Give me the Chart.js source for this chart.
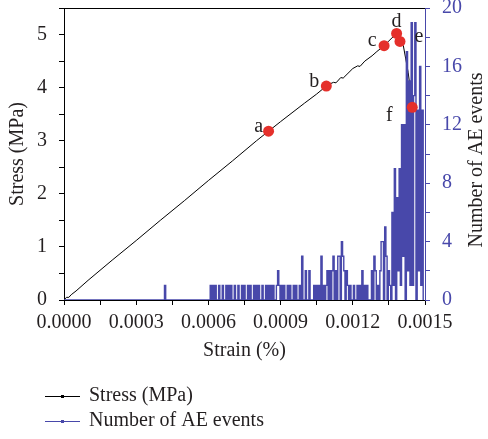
<!DOCTYPE html>
<html>
<head>
<meta charset="utf-8">
<script src="https://cdn.jsdelivr.net/npm/chart.js@4.4.1/dist/chart.umd.min.js"></script>
<style>
  html, body { margin: 0; padding: 0; background: #fff; }
</style>
</head>
<body>
<canvas id="stressChart" width="488" height="439"></canvas>
<script>
// Stress-strain curve
const stressStrain = [0, 0.00001, 0.00002, 0.00003, 0.00005, 0.0001, 0.0002, 0.0003, 0.0004, 0.0005,
    0.0006, 0.0007, 0.0008, 0.00085, 0.0009, 0.001, 0.00105, 0.00109, 0.0011, 0.00112,
    0.00113, 0.00115, 0.00116, 0.00118, 0.0012, 0.00122, 0.00123, 0.00125, 0.00128, 0.0013,
    0.00133, 0.00135, 0.00137, 0.001382, 0.00139, 0.001396, 0.00141, 0.00142, 0.00143, 0.00144, 0.001447];
const stressValues = [0, 0.05, 0.05, 0.1, 0.17, 0.37, 0.75, 1.12, 1.5, 1.87,
    2.25, 2.62, 3.0, 3.18, 3.36, 3.71, 3.88, 4.03, 4.06, 4.1,
    4.09, 4.19, 4.18, 4.27, 4.36, 4.41, 4.4, 4.5, 4.6, 4.68,
    4.79, 4.88, 4.97, 5.02, 4.96, 4.87, 4.79, 4.54, 4.29, 3.94, 3.63];

// Marked points a-f
const pointNames = ["a", "b", "c", "d", "e", "f"];
const pointStrain = [0.00085, 0.00109, 0.00133, 0.001382, 0.001396, 0.001447];
const pointStress = [3.18, 4.03, 4.79, 5.02, 4.87, 3.63];

// AE counts, sampled every 0.000005 strain from 0.0004
const aeStart = 0.0004;
const aeStep = 0.000005;
const aeCounts = [
    0,0,0,0,1,0,0,0,0,0, 0,0,0,0,0,0,0,0,0,0, 0,0,0,0,0,0,0,0,0,0, 0,0,0,0,0,0,0,0,0,0,
    0,0,1,0,1,0,1,0,0,1,
    0,0,1,0,0,1,0,1,0,1,
    0,0,1,0,0,1,0,0,1,0,
    1,0,0,1,0,1,0,0,1,0,
    1,0,1,0,0,1,0,0,1,0,
    1,0,1,0,1,0,0,1,2,1,
    0,1,0,1,0,0,1,0,1,0,
    0,1,0,1,0,0,1,0,3,0,
    0,2,0,0,2,0,0,0,1,0,
    1,0,1,0,3,0,1,0,1,2,
    0,2,0,2,3,0,2,0,3,3,
    0,4,3,2,0,2,1,0,1,0,
    0,1,0,0,1,0,1,0,2,0,
    1,0,1,0,0,0,2,0,3,2,
    0,1,0,2,4,4,0,5,3,0,
    2,1,0,6,1,9,0,7,2,9,
    1,12,3,12,0,17,2,15,1,19,
    1,14,19,0,13,2,16,1,13,0
];

// Tick labels
const strainTicks = [0, 0.0003, 0.0006, 0.0009, 0.0012, 0.0015];
const stressTicks = [0, 1, 2, 3, 4, 5];
const aeTicks = [0, 4, 8, 12, 16, 20];

const BLUE = "#4848aa";
const RED = "#e5302b";
const TEXT = "#231f20";

const stressData = stressStrain.map((x, i) => ({ x: x, y: stressValues[i] }));
const pointData = pointStrain.map((x, i) => ({ x: x, y: pointStress[i] }));
const aeData = [{ x: 0, y: 0 }].concat(aeCounts.map((c, i) => ({ x: aeStart + i * aeStep, y: c })));

function inList(list, v, eps) {
    return list.some(t => Math.abs(t - v) < eps);
}

Chart.defaults.font.family = "'Liberation Serif', 'Times New Roman', serif";
Chart.defaults.font.size = 20;
Chart.defaults.color = TEXT;

// where each letter sits relative to its dot (baseline, centered)
const labelOffsets = { a: [-10, 1], b: [-12, 1], c: [-12, 0], d: [0, -6], e: [19, 1], f: [-23, 14] };

const extras = {
    id: "extras",
    afterDatasetsDraw(chart) {
        const { ctx, scales } = chart;
        ctx.save();
        ctx.font = "20px 'Liberation Serif', serif";
        ctx.fillStyle = TEXT;
        ctx.textAlign = "center";
        ctx.textBaseline = "alphabetic";
        pointNames.forEach((n, i) => {
            const px = scales.x.getPixelForValue(pointStrain[i]);
            const py = scales.y.getPixelForValue(pointStress[i]);
            const off = labelOffsets[n];
            ctx.fillText(n, px + off[0], py + off[1]);
        });
        ctx.restore();
    },
    afterDraw(chart) {
        const { ctx, chartArea } = chart;
        ctx.save();
        // top frame line
        ctx.strokeStyle = "#000";
        ctx.lineWidth = 1;
        ctx.beginPath();
        ctx.moveTo(chartArea.left, chartArea.top + 0.5);
        ctx.lineTo(chartArea.right, chartArea.top + 0.5);
        ctx.stroke();

        // right axis title, reading bottom to top
        ctx.font = "20px 'Liberation Serif', serif";
        ctx.fillStyle = TEXT;
        ctx.translate(477, 160);
        ctx.rotate(-Math.PI / 2);
        ctx.textAlign = "center";
        ctx.textBaseline = "middle";
        ctx.fillText("Number of AE events", 0, 0);
        ctx.restore();

        // legend
        ctx.save();
        ctx.font = "20px 'Liberation Serif', serif";
        ctx.textBaseline = "middle";
        ctx.textAlign = "left";
        const items = chart.data.datasets.filter(d => d.label !== "points").reverse();
        items.forEach((d, i) => {
            const y = 396 + i * 25;
            ctx.strokeStyle = d.borderColor;
            ctx.lineWidth = 1;
            ctx.beginPath();
            ctx.moveTo(45, y + 0.5);
            ctx.lineTo(80, y + 0.5);
            ctx.stroke();
            ctx.fillStyle = d.borderColor;
            ctx.fillRect(61, y - 1, 3, 3);
            ctx.fillStyle = TEXT;
            ctx.fillText(d.label, 89, y);
        });
        ctx.restore();
    }
};

const ctx = document.getElementById("stressChart");
new Chart(ctx.getContext("2d"), {
    type: "line",
    data: {
        datasets: [
            {
                label: "points",
                data: pointData,
                yAxisID: "y",
                showLine: false,
                pointRadius: 5.5,
                pointBackgroundColor: RED,
                pointBorderWidth: 0,
                order: 0,
            },
            {
                label: "Number of AE events",
                data: aeData,
                yAxisID: "y1",
                borderColor: BLUE,
                borderWidth: 1.4,
                stepped: "middle",
                pointRadius: 0,
                order: 1,
            },
            {
                label: "Stress (MPa)",
                data: stressData,
                yAxisID: "y",
                borderColor: "#000",
                borderWidth: 1,
                pointRadius: 0,
                order: 2,
            },
        ],
    },
    options: {
        responsive: false,
        animation: false,
        layout: { padding: { top: 8, bottom: 72, left: 0, right: 0 } },
        plugins: {
            legend: { display: false },
            tooltip: { enabled: false },
        },
        scales: {
            x: {
                type: "linear",
                position: "bottom",
                min: 0,
                max: 0.0015,
                ticks: {
                    stepSize: 0.00015,
                    autoSkip: false,
                    maxRotation: 0,
                    padding: 6,
                    callback: v => inList(strainTicks, v, 1e-9) ? v.toFixed(4) : "",
                },
                grid: { drawOnChartArea: false, tickLength: 5, color: "#000" },
                border: { color: "#000" },
                title: { display: true, text: "Strain (%)", padding: { top: 0, bottom: 4 } },
                afterFit: s => { s.height = 67; s.paddingLeft = 0; s.paddingRight = 0; },
            },
            y: {
                position: "left",
                min: 0,
                max: 5.5,
                ticks: {
                    stepSize: 0.5,
                    autoSkip: false,
                    padding: 12,
                    callback: v => inList(stressTicks, v, 1e-6) ? String(Math.round(v)) : "",
                },
                grid: { drawOnChartArea: false, tickLength: 5, color: "#000" },
                border: { color: "#000" },
                title: { display: true, text: "Stress (MPa)", padding: { top: 6 } },
                afterFit: s => { s.width = 64; s.paddingTop = 0; s.paddingBottom = 0; },
            },
            y1: {
                position: "right",
                min: 0,
                max: 20,
                ticks: {
                    stepSize: 2,
                    autoSkip: false,
                    padding: 12,
                    color: BLUE,
                    callback: v => inList(aeTicks, v, 1e-6) ? String(Math.round(v)) : "",
                },
                grid: { drawOnChartArea: false, tickLength: 5, color: BLUE },
                border: { color: BLUE },
                afterFit: s => { s.width = 63; s.paddingTop = 0; s.paddingBottom = 0; },
            },
        },
    },
    plugins: [extras],
});
</script>
</body>
</html>
